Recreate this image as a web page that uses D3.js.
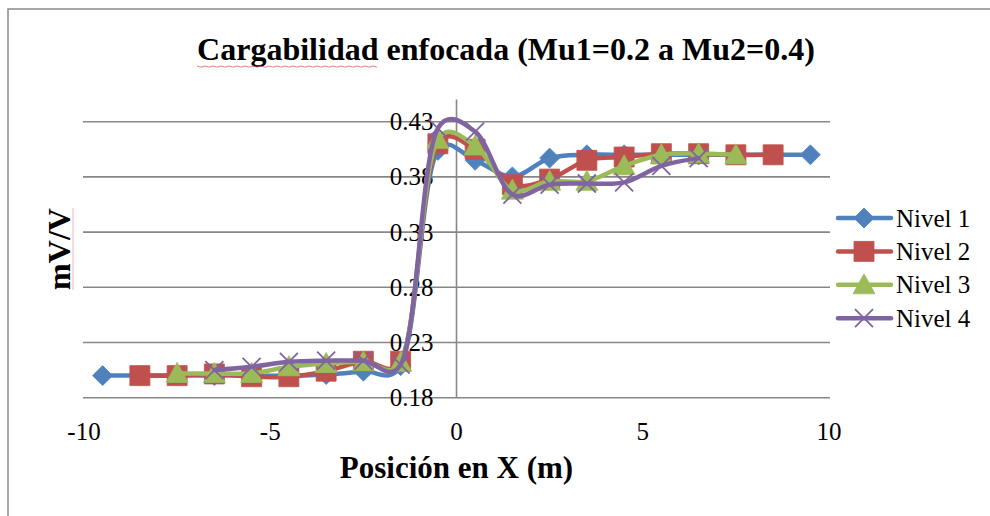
<!DOCTYPE html>
<html>
<head>
<meta charset="utf-8">
<script src="https://cdn.jsdelivr.net/npm/d3@7"></script>
<style>
  body { margin: 0; background: #fff; }
  svg text { font-family: "Liberation Serif", "Times New Roman", "DejaVu Serif", serif; }
</style>
</head>
<body>
<div class="root"></div>
<script>
'use strict';

var seriesNames = ['Nivel 1', 'Nivel 2', 'Nivel 3', 'Nivel 4'];

var xNivel1 = [-9.5, -8.5, -7.5, -6.5, -5.5, -4.5, -3.5, -2.5, -1.5, -0.5, 0.5, 1.5, 2.5, 3.5, 4.5, 5.5, 6.5, 7.5, 8.5, 9.5];
var yNivel1 = [0.200, 0.200, 0.200, 0.200, 0.200, 0.200, 0.201, 0.204, 0.209, 0.404, 0.395, 0.380, 0.397, 0.400, 0.400, 0.400, 0.400, 0.400, 0.400, 0.400];

var xNivel2 = [-8.5, -7.5, -6.5, -5.5, -4.5, -3.5, -2.5, -1.5, -0.5, 0.5, 1.5, 2.5, 3.5, 4.5, 5.5, 6.5, 7.5, 8.5];
var yNivel2 = [0.200, 0.200, 0.2015, 0.199, 0.199, 0.204, 0.213, 0.213, 0.410, 0.405, 0.373, 0.378, 0.395, 0.398, 0.401, 0.401, 0.400, 0.400];

var xNivel3 = [-7.5, -6.5, -5.5, -4.5, -3.5, -2.5, -1.5, -0.5, 0.5, 1.5, 2.5, 3.5, 4.5, 5.5, 6.5, 7.5];
var yNivel3 = [0.202, 0.202, 0.202, 0.208, 0.211, 0.2125, 0.212, 0.414, 0.408, 0.368, 0.376, 0.376, 0.390, 0.400, 0.401, 0.400];

var xNivel4 = [-6.5, -5.5, -4.5, -3.5, -2.5, -1.5, -0.5, 0.5, 1.5, 2.5, 3.5, 4.5, 5.5, 6.5];
var yNivel4 = [0.205, 0.208, 0.2125, 0.2135, 0.2135, 0.210, 0.424, 0.421, 0.364, 0.373, 0.374, 0.375, 0.390, 0.397];

var xTicks = [-10, -5, 0, 5, 10];
var yTicks = [0.18, 0.23, 0.28, 0.33, 0.38, 0.43];

var colors = ['#4F81BD', '#C0504D', '#9BBB59', '#8064A2'];
var markers = ['diamond', 'square', 'triangle', 'cross'];

var series = [
  { name: seriesNames[0], xs: xNivel1, ys: yNivel1 },
  { name: seriesNames[1], xs: xNivel2, ys: yNivel2 },
  { name: seriesNames[2], xs: xNivel3, ys: yNivel3 },
  { name: seriesNames[3], xs: xNivel4, ys: yNivel4 }
];

var W = 990, H = 516;
var FONT = '"Liberation Serif", "Times New Roman", serif';
var svg = d3.select('div.root').append('svg').attr('width', W).attr('height', H);

var x = d3.scaleLinear().domain([-10, 10]).range([84, 829]);
var y = d3.scaleLinear().domain([0.18, 0.45]).range([397.7, 99.6]);

// outer chart border (only top and left are in view)
svg.append('path')
  .attr('d', 'M8,' + H + ' L8,9 L' + W + ',9')
  .attr('fill', 'none')
  .attr('stroke', '#8a8a8a')
  .attr('stroke-width', 1.5);

// title
svg.append('text')
  .attr('x', 506).attr('y', 60)
  .attr('text-anchor', 'middle')
  .attr('font-family', FONT)
  .attr('font-size', 32).attr('font-weight', 'bold')
  .text('Cargabilidad enfocada (Mu1=0.2 a Mu2=0.4)');

// spell-check squiggle under "Cargabilidad"
svg.append('path')
  .attr('d', d3.range(197, 378, 4).map(function (v, i) {
    return (i === 0 ? 'M' : 'L') + v + ',' + (66 + (i % 2 ? 1.2 : 0));
  }).join(' '))
  .attr('fill', 'none').attr('stroke', '#e06060').attr('stroke-width', 0.8);

// horizontal gridlines
svg.selectAll('line.grid')
  .data(yTicks)
  .enter().append('line')
  .attr('class', 'grid')
  .attr('x1', x(-10) - 1).attr('x2', x(10) + 1)
  .attr('y1', function (d) { return y(d); })
  .attr('y2', function (d) { return y(d); })
  .attr('stroke', '#878787')
  .attr('stroke-width', 1.6);

// vertical axis at x = 0
svg.append('line')
  .attr('x1', x(0)).attr('x2', x(0))
  .attr('y1', y(0.45)).attr('y2', y(0.18))
  .attr('stroke', '#878787')
  .attr('stroke-width', 1.6);

// y tick labels
svg.selectAll('text.ytick')
  .data(yTicks)
  .enter().append('text')
  .attr('class', 'ytick')
  .attr('x', x(0) - 23)
  .attr('y', function (d) { return y(d) + 8.5; })
  .attr('text-anchor', 'end')
  .attr('font-family', FONT)
  .attr('font-size', 25)
  .text(function (d) { return d3.format('.2f')(d); });

// x tick labels
svg.selectAll('text.xtick')
  .data(xTicks)
  .enter().append('text')
  .attr('class', 'xtick')
  .attr('x', function (d) { return x(d); })
  .attr('y', 440)
  .attr('text-anchor', 'middle')
  .attr('font-family', FONT)
  .attr('font-size', 25)
  .text(function (d) { return d; });

// axis titles
svg.append('text')
  .attr('x', x(0)).attr('y', 478)
  .attr('text-anchor', 'middle')
  .attr('font-family', FONT)
  .attr('font-size', 31).attr('font-weight', 'bold')
  .text('Posición en X (m)');

svg.append('text')
  .attr('transform', 'translate(70,249) rotate(-90)')
  .attr('text-anchor', 'middle')
  .attr('font-family', FONT)
  .attr('font-size', 32).attr('font-weight', 'bold')
  .text('mV/V');

svg.append('line')
  .attr('x1', 73).attr('x2', 73).attr('y1', 208).attr('y2', 290)
  .attr('stroke', '#f0a0a0').attr('stroke-width', 0.8);

function markerPath(type) {
  if (type === 'diamond') return 'M0,-10 L10,0 L0,10 L-10,0 Z';
  if (type === 'square') return 'M-10,-10 H10 V10 H-10 Z';
  if (type === 'triangle') return 'M0,-11 L11,9 L-11,9 Z';
  return 'M-9,-9 L9,9 M9,-9 L-9,9';
}

function drawMarker(g, type, color) {
  if (type === 'cross') {
    g.append('path').attr('d', markerPath(type))
      .attr('fill', 'none').attr('stroke', color).attr('stroke-width', 1.8);
  } else {
    g.append('path').attr('d', markerPath(type))
      .attr('fill', color).attr('stroke', color).attr('stroke-width', 0.8);
  }
}

var line = d3.line()
  .x(function (d) { return x(d[0]); })
  .y(function (d) { return y(d[1]); })
  .curve(d3.curveCatmullRom.alpha(0.25));

series.forEach(function (s, k) {
  var pts = s.xs.map(function (v, i) { return [v, s.ys[i]]; });
  svg.append('path')
    .datum(pts)
    .attr('d', line)
    .attr('fill', 'none')
    .attr('stroke', colors[k])
    .attr('stroke-width', 4.5)
    .attr('stroke-linecap', 'round')
    .attr('stroke-linejoin', 'round');

  svg.selectAll('g.m' + k)
    .data(pts)
    .enter().append('g')
    .attr('class', 'm' + k)
    .attr('transform', function (d) { return 'translate(' + x(d[0]) + ',' + y(d[1]) + ')'; })
    .each(function () { drawMarker(d3.select(this), markers[k], colors[k]); });
});

// legend
var legend = svg.selectAll('g.legend')
  .data(series)
  .enter().append('g')
  .attr('class', 'legend')
  .attr('transform', function (d, i) { return 'translate(0,' + (218 + i * 33.4) + ')'; });

legend.append('line')
  .attr('x1', 838).attr('x2', 891).attr('y1', 0).attr('y2', 0)
  .attr('stroke', function (d, i) { return colors[i]; })
  .attr('stroke-width', 4.5)
  .attr('stroke-linecap', 'round');

legend.each(function (d, i) {
  var g = d3.select(this).append('g').attr('transform', 'translate(864,0)');
  drawMarker(g, markers[i], colors[i]);
});

legend.append('text')
  .attr('x', 896).attr('y', 8.5)
  .attr('font-family', FONT)
  .attr('font-size', 25)
  .text(function (d) { return d.name; });
</script>
</body>
</html>
